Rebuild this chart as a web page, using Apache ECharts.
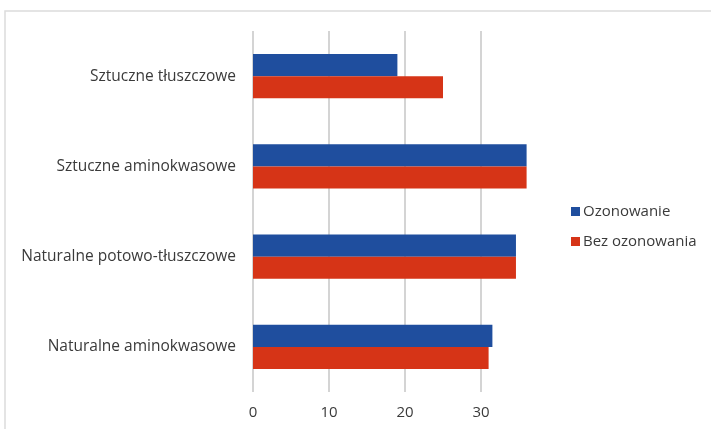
<!DOCTYPE html>
<html>
<head>
<meta charset="utf-8">
<script src="https://cdn.jsdelivr.net/npm/echarts@6/dist/echarts.min.js"></script>
<style>
  html, body { margin: 0; padding: 0; background: #fff; }
  #chart { width: 711px; height: 429px; }
</style>
</head>
<body>
<div id="chart"></div>
<script>
// Categories listed top to bottom
const categories = [
  'Sztuczne tłuszczowe',
  'Sztuczne aminokwasowe',
  'Naturalne potowo-tłuszczowe',
  'Naturalne aminokwasowe'
];
const seriesNames = ['Ozonowanie', 'Bez ozonowania'];
const ozonowanie = [19, 36, 34.6, 31.5];
const bezOzonowania = [25, 36, 34.6, 31];
const xTicks = [0, 10, 20, 30];

const chart = echarts.init(document.getElementById('chart'), null, { renderer: 'canvas' });
const font = '"Open Sans", "Noto Sans", sans-serif';
const grid = '#d4d4d4';
const textColor = '#3a3a3a';

chart.setOption({
  animation: false,
  backgroundColor: '#ffffff',
  textStyle: { fontFamily: font },
  graphic: [{
    type: 'rect',
    shape: { x: 5, y: 11, width: 720, height: 440 },
    style: { fill: 'none', stroke: '#dcdcdc', lineWidth: 1.5 },
    silent: true
  }],
  grid: { left: 253, top: 31, bottom: 37, right: 711 - (253 + 36.5 * 7.6) },
  legend: {
    orient: 'vertical',
    left: 566,
    top: 199,
    itemWidth: 9,
    itemHeight: 9,
    itemGap: 15,
    icon: 'rect',
    data: seriesNames,
    textStyle: { fontFamily: font, fontSize: 15, color: textColor, padding: [0, 0, 0, -2] }
  },
  xAxis: {
    type: 'value',
    min: 0,
    max: 36.5,
    interval: 10,
    axisLine: { show: false },
    axisTick: { show: false },
    axisLabel: {
      showMaxLabel: false,
      margin: 13,
      fontSize: 15,
      color: textColor,
      fontFamily: font,
      formatter: v => (xTicks.indexOf(v) >= 0 ? String(v) : '')
    },
    splitLine: {
      show: true,
      lineStyle: { color: [grid, grid, grid, grid, 'rgba(0,0,0,0)'], width: 2 }
    }
  },
  yAxis: {
    type: 'category',
    inverse: true,
    data: categories,
    axisLine: { show: false },
    axisTick: { show: false },
    axisLabel: { margin: 17, fontSize: 15.5, color: textColor, fontFamily: font }
  },
  series: [
    {
      name: seriesNames[0],
      type: 'bar',
      data: ozonowanie,
      barGap: '0%',
      barCategoryGap: '51%',
      itemStyle: { color: '#1f4e9e' }
    },
    {
      name: seriesNames[1],
      type: 'bar',
      data: bezOzonowania,
      itemStyle: { color: '#d63417' }
    }
  ]
});
</script>
</body>
</html>
